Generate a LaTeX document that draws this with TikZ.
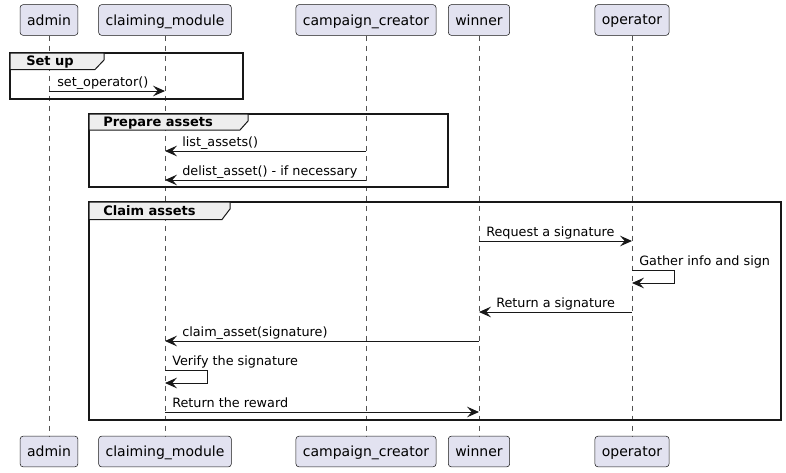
\documentclass[tikz,border=0pt]{standalone}
\usepackage{fontspec}
\setmainfont{DejaVu Sans}
\usetikzlibrary{arrows.meta}
\definecolor{partfill}{HTML}{E2E2F0}
\definecolor{ink}{HTML}{181818}
\definecolor{tabfill}{HTML}{EEEEEE}
\tikzset{
  part/.style={draw=ink, fill=partfill, rounded corners=2.2pt, line width=0.4pt,
    font=\fontsize{10.5pt}{12pt}\selectfont, inner xsep=5.2pt, minimum height=23pt, text depth=0pt, anchor=center},
  life/.style={draw=ink!75, line width=0.4pt, dash pattern=on 3.75pt off 3.75pt},
  msg/.style={draw=ink, line width=0.75pt, -{Stealth[length=9pt,width=8pt,inset=3.5pt]}},
  lbl/.style={font=\fontsize{9.6pt}{11pt}\selectfont, anchor=base west, inner sep=0pt, text=black},
  frame/.style={draw=ink, line width=1.4pt},
  tab/.style={draw=ink, fill=tabfill, line width=0.75pt},
  tabtxt/.style={font=\bfseries\fontsize{9.75pt}{11pt}\selectfont, anchor=base west, inner sep=0pt},
}
\begin{document}
\begin{tikzpicture}[x=0.75pt,y=-0.75pt]
\useasboundingbox (0,0) rectangle (786,472);
% participants top
\node[part] (adminT) at (49,20) {admin};
\node[part] (cmT) at (165,20) {claiming\_module};
\node[part] (ccT) at (366,20) {campaign\_creator};
\node[part] (winT) at (479,20) {winner};
\node[part] (opT) at (632,20) {operator};
% participants bottom
\node[part] (adminB) at (49,451.5) {admin};
\node[part] (cmB) at (165,451.5) {claiming\_module};
\node[part] (ccB) at (366,451.5) {campaign\_creator};
\node[part] (winB) at (479,451.5) {winner};
\node[part] (opB) at (632,451.5) {operator};
% lifelines
\foreach \p in {admin,cm,cc,win,op}{
  \draw[life] (\p T.south) -- (\p B.north);
}
% Frames
\draw[frame] (10,53) rectangle (243,99);
\draw[tab] (10,53) -- (104,53) -- (104,60) -- (95,69.5) -- (10,69.5) -- cycle;
\node[tabtxt] (f1) at (26,65) {Set up};

\draw[frame] (89,114) rectangle (448,187);
\draw[tab] (89,114) -- (248,114) -- (248,121) -- (240,130) -- (89,130) -- cycle;
\node[tabtxt] (f2) at (103,126) {Prepare assets};

\draw[frame] (89,202) rectangle (781,420);
\draw[tab] (89,202) -- (230,202) -- (230,209) -- (222,219.5) -- (89,219.5) -- cycle;
\node[tabtxt] (f3) at (103,215.5) {Claim assets};

% message rows
\coordinate (m1) at (0,91);
\coordinate (m2) at (0,151);
\coordinate (m3) at (0,180);
\coordinate (m4) at (0,241);
\coordinate (m5a) at (0,270);
\coordinate (m5b) at (0,283);
\coordinate (m6) at (0,312);
\coordinate (m7) at (0,341);
\coordinate (m8a) at (0,370);
\coordinate (m8b) at (0,383);
\coordinate (m9) at (0,412);

\draw[msg] (adminT|-m1) -- (cmT|-m1);
\node[lbl] (l1) at (57,86) {set\_operator()};

\draw[msg] (ccT|-m2) -- (cmT|-m2);
\node[lbl] (l2) at (182,146) {list\_assets()};

\draw[msg] (ccT|-m3) -- (cmT|-m3);
\node[lbl] (l3) at (182,175) {delist\_asset() - if necessary};

\draw[msg] (winT|-m4) -- (opT|-m4);
\node[lbl] (l4) at (486,236) {Request a signature};

\draw[msg] (opT|-m5a) -- ++(42,0) |- (opT|-m5b);
\node[lbl] (l5) at (639,265) {Gather info and sign};

\draw[msg] (opT|-m6) -- (winT|-m6);
\node[lbl] (l6) at (496,307) {Return a signature};

\draw[msg] (winT|-m7) -- (cmT|-m7);
\node[lbl] (l7) at (182,336) {claim\_asset(signature)};

\draw[msg] (cmT|-m8a) -- ++(42,0) |- (cmT|-m8b);
\node[lbl] (l8) at (172,365) {Verify the signature};

\draw[msg] (cmT|-m9) -- (winT|-m9);
\node[lbl] (l9) at (172,407) {Return the reward};
\end{tikzpicture}
\end{document}
